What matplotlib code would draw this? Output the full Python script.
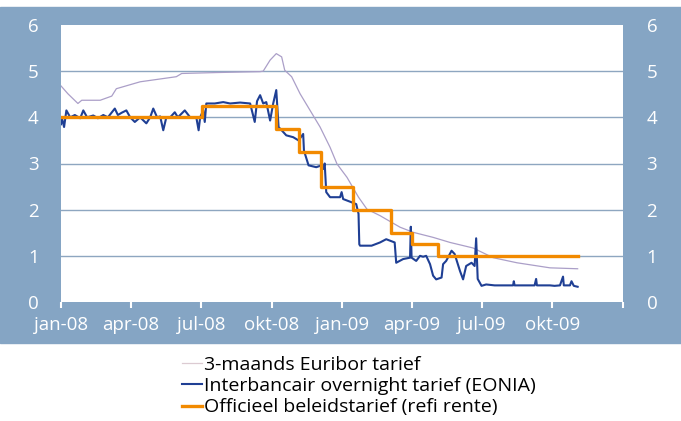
import numpy as np
import matplotlib.pyplot as plt
from matplotlib.patches import Rectangle

plt.rcParams['font.family'] = ['Open Sans', 'DejaVu Sans']

start = np.datetime64('2008-01-01')

# days since 1 jan 2008
euribor_days = [0, 9, 22, 27, 51, 66, 72, 103, 150, 157, 202, 259, 263, 272, 280, 287,
                291, 300, 311, 324, 337, 350, 359, 372, 387, 398, 415, 441, 458, 484,
                506, 536, 562, 593, 636, 672]
euribor = [4.68, 4.51, 4.30, 4.37, 4.37, 4.46, 4.62, 4.77, 4.88, 4.95, 4.97, 4.99, 5.0,
           5.24, 5.38, 5.31, 5.02, 4.88, 4.51, 4.15, 3.79, 3.35, 2.99, 2.70, 2.27, 2.01,
           1.87, 1.62, 1.51, 1.40, 1.29, 1.17, 0.96, 0.85, 0.74, 0.72]

eonia_days = [0, 1, 4, 7, 12, 18, 25, 29, 34, 42, 48, 55, 61, 70, 74, 79, 85, 90, 96, 103,
              111, 116, 120, 125, 129, 133, 137, 142, 148, 152, 161, 168, 176, 179, 181,
              185, 187, 189, 200, 211, 220, 233, 246, 252, 255, 259, 263, 267, 272, 276,
              280, 283, 287, 293, 302, 309, 315, 316, 322, 332, 339, 341, 343, 345, 350,
              363, 365, 367, 378, 384, 387, 388, 389, 404, 415, 423, 434, 436, 445, 454,
              455, 456, 462, 467, 471, 475, 480, 484, 488, 495, 497, 501, 508, 512, 519,
              523, 527, 534, 538, 540, 542, 547, 553, 564, 577, 588, 589, 590, 603, 616,
              618, 619, 636, 642, 649, 653, 654, 662, 664, 667, 672]
eonia = [3.85, 4.0, 3.79, 4.15, 4.0, 4.05, 3.98, 4.15, 4.0, 4.04, 3.98, 4.05, 4.0, 4.19,
         4.05, 4.1, 4.15, 4.0, 3.9, 4.0, 3.87, 4.0, 4.19, 4.0, 4.02, 3.72, 4.0, 4.0, 4.11,
         4.0, 4.15, 4.0, 4.0, 3.72, 4.0, 4.15, 3.9, 4.3, 4.3, 4.33, 4.3, 4.32, 4.3, 3.9,
         4.35, 4.48, 4.3, 4.33, 3.93, 4.3, 4.59, 3.79, 3.72, 3.61, 3.57, 3.5, 3.64, 3.28,
         2.96, 2.92, 2.96, 2.88, 3.0, 2.38, 2.27, 2.27, 2.38, 2.23, 2.16, 2.12, 1.91, 1.25,
         1.22, 1.22, 1.29, 1.36, 1.29, 0.85, 0.93, 0.96, 1.63, 0.96, 0.89, 1.0, 0.98, 1.0,
         0.82, 0.57, 0.49, 0.53, 0.82, 0.89, 1.11, 1.04, 0.67, 0.49, 0.78, 0.85, 0.78, 1.38,
         0.5, 0.35, 0.38, 0.36, 0.36, 0.36, 0.45, 0.36, 0.36, 0.36, 0.5, 0.36, 0.36, 0.35,
         0.36, 0.55, 0.36, 0.36, 0.45, 0.35, 0.33]

refi_days = [0, 183, 280, 310, 338, 380, 429, 456, 491, 672]
refi = [4.0, 4.25, 3.75, 3.25, 2.5, 2.0, 1.5, 1.25, 1.0, 1.0]

tick_dates = ['2008-01-01', '2008-04-01', '2008-07-01', '2008-10-01', '2009-01-01',
              '2009-04-01', '2009-07-01', '2009-10-01', '2010-01-01']
tick_labels = ['jan-08', 'apr-08', 'jul-08', 'okt-08', 'jan-09', 'apr-09', 'jul-09', 'okt-09', '']

def to_dates(days):
    return start + np.array(days).astype('timedelta64[D]')

W, H = 681, 421
fig = plt.figure(figsize=(W / 100, H / 100), dpi=100)
bg = '#85a5c4'
fig.add_artist(Rectangle((0, 1 - 343 / H), 1, 336 / H, transform=fig.transFigure,
                         color=bg, zorder=0))

ax = fig.add_axes([61 / W, 1 - 302 / H, 562 / W, 277 / H])
ax.set_facecolor('white')

ax.plot(to_dates(euribor_days), euribor, color='#ab9fc8', lw=0.9, label='3-maands Euribor tarief')
ax.plot(to_dates(eonia_days), eonia, color='#1f3f94', lw=1.5,
        label='Interbancair overnight tarief (EONIA)')
ax.step(to_dates(refi_days), refi, where='post', color='#f28a00', lw=2.4,
        label='Officieel beleidstarief (refi rente)')

ax.set_ylim(0, 6)
ax.set_xlim(start, np.datetime64('2010-01-01'))
ax.set_yticks(range(7))
for y in range(1, 6):
    ax.axhline(y, color='#8ea6c0', lw=1, zorder=0)

ax.set_xticks(np.array(tick_dates, dtype='datetime64[D]'))
ax.set_xticklabels(tick_labels)
for s in ax.spines.values():
    s.set_visible(False)
ax.tick_params(axis='x', colors='white', labelsize=13.5, length=4, width=1.5, pad=6)
ax.tick_params(axis='y', colors='white', labelsize=13.5, length=0, pad=16)

ax2 = ax.twinx()
ax2.set_ylim(0, 6)
ax2.set_yticks(range(7))
for s in ax2.spines.values():
    s.set_visible(False)
ax2.tick_params(axis='y', colors='white', labelsize=13.5, length=0, pad=17)

handles, labels = ax.get_legend_handles_labels()
leg = fig.legend(handles, labels, loc='upper left', bbox_to_anchor=(174 / W, 1 - 348 / H),
                 frameon=False, fontsize=14, handlelength=1.05, handletextpad=0.08,
                 labelspacing=0.17, borderaxespad=0)
leg.get_lines()[0].set_color('#dccbd2')

fig.savefig('out.png', dpi=100)
